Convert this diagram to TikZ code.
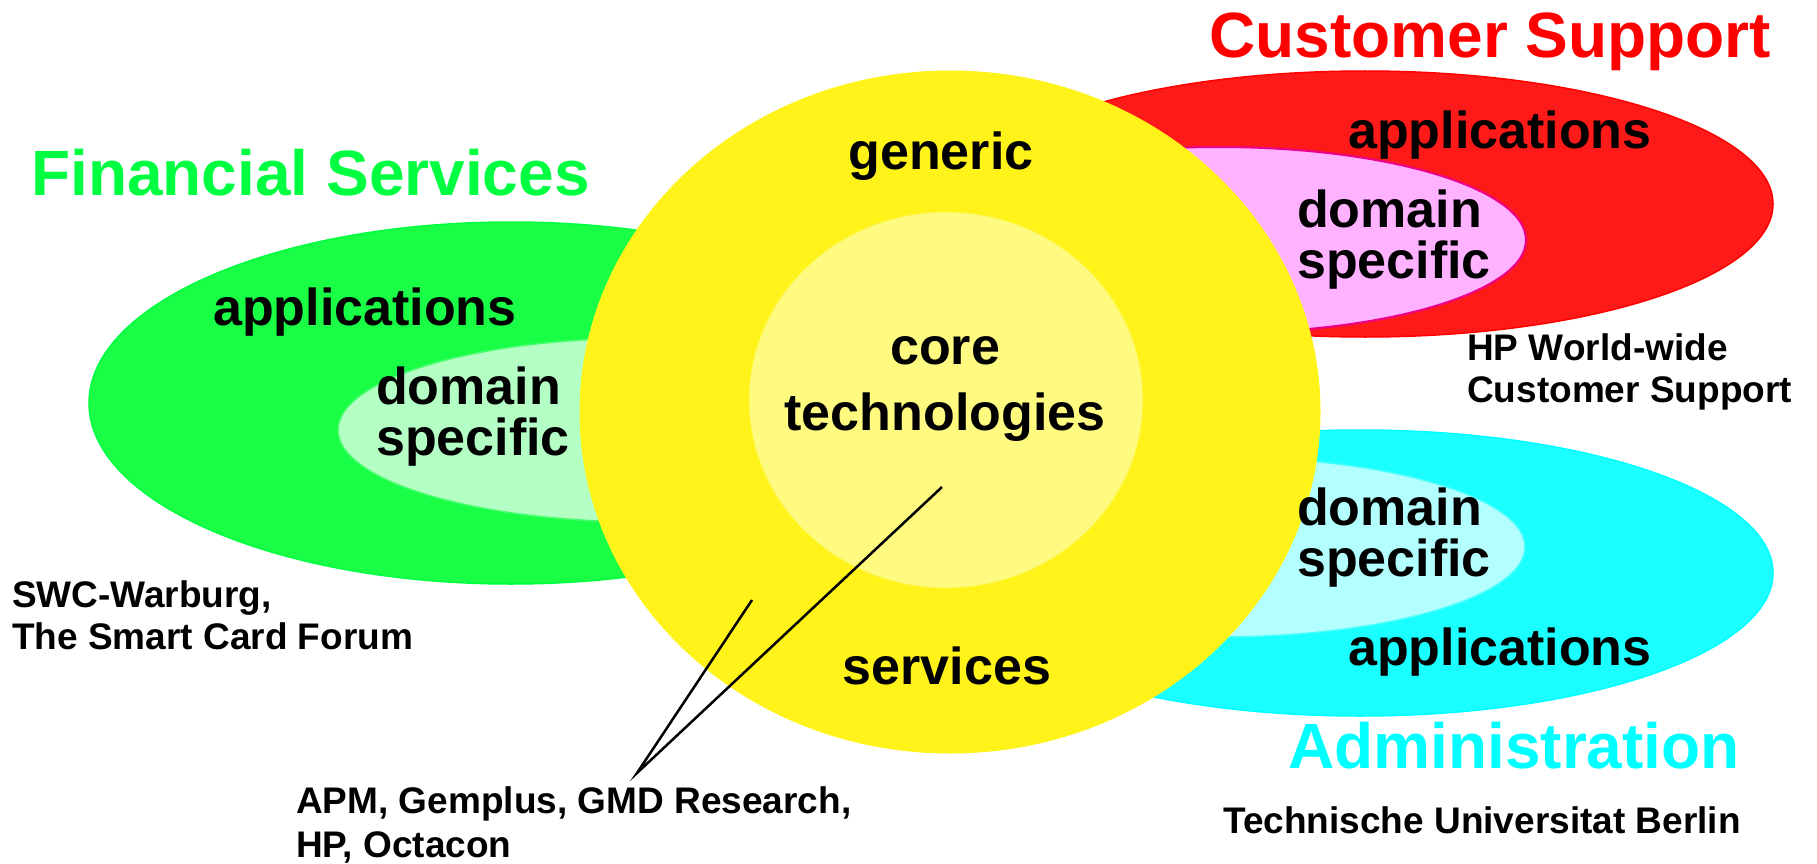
\documentclass[tikz,border=0pt]{standalone}
\usepackage{fontspec}
\setmainfont{Liberation Sans}
\usetikzlibrary{positioning}
\definecolor{GA}{RGB}{25,255,70}   % green outer
\definecolor{GB}{RGB}{179,255,196} % green inner
\definecolor{RA}{RGB}{255,26,26}   % red outer
\definecolor{RB}{RGB}{255,178,255} % pink inner
\definecolor{CA}{RGB}{26,255,255}  % cyan outer
\definecolor{CB}{RGB}{179,255,255} % cyan inner
\definecolor{YA}{RGB}{255,243,26}  % yellow outer
\definecolor{YB}{RGB}{255,250,128} % yellow inner
\definecolor{TG}{RGB}{0,255,64}
\definecolor{TR}{RGB}{255,0,0}
\definecolor{TC}{RGB}{0,255,255}

\begin{document}
\begin{tikzpicture}[x=1pt, y=-1pt,
  TTL/.style = {font=\bfseries\fontsize{64}{64}\selectfont,
                inner sep=0pt, anchor=base west},
  LBL/.style = {font=\bfseries\fontsize{52}{51}\selectfont,
                inner sep=0pt, anchor=base west, align=left},
  SML/.style = {font=\bfseries\fontsize{37}{42}\selectfont,
                inner sep=0pt, anchor=base west, align=left},
  LNE/.style = {line width=2.5pt, black}
                    ]
\fill[white] (0,0) rectangle (1817,864);
\useasboundingbox (0,0) rectangle (1817,864);
% side fields
\filldraw[fill=GA, draw=TG, line width=1.5pt] (511,403) ellipse [x radius=422pt, y radius=181pt];
\filldraw[fill=GB, draw=GA!70!GB, line width=1.5pt] (645,430) ellipse [x radius=307pt, y radius=92pt];
\filldraw[fill=RA, draw=TR, line width=1.5pt] (1365,204) ellipse [x radius=408pt, y radius=133pt];
\filldraw[fill=RB, draw=magenta, line width=2pt] (1219,240) ellipse [x radius=307pt, y radius=93pt];
\filldraw[fill=CA, draw=TC, line width=1.5pt] (1360,573) ellipse [x radius=413pt, y radius=143pt];
\filldraw[fill=CB, draw=CA!70!CB, line width=1.5pt] (1219,547) ellipse [x radius=306pt, y radius=90pt];
% centre
\filldraw[fill=YA, draw=YA, line width=1pt] (950,412) ellipse [x radius=370pt, y radius=341pt];
\filldraw[fill=YB, draw=YA!60!YB, line width=1pt] (946,400) ellipse [x radius=197pt, y radius=188pt];

% titles
\node[TTL, text=TG] (fin) at (31,195) {Financial Services};
\node[TTL, text=TR] (cus) at (1209,58) {Customer Support};
\node[TTL, text=TC] (adm) at (1288,768) {Administration};

% field labels (base = last line)
\node[LBL] (finapp) at (213,325) {applications};
\node[LBL] (findom) at (376,455) {domain\\specific};
\node[LBL] (cusapp) at (1348,148) {applications};
\node[LBL] (cusdom) at (1297,278) {domain\\specific};
\node[LBL] (admdom) at (1297,576) {domain\\specific};
\node[LBL] (admapp) at (1348,665) {applications};
\node[LBL, anchor=base] (gen) at (941,169) {generic};
\node[LBL, anchor=base, align=center,
      font=\bfseries\fontsize{52}{66}\selectfont] (core) at (945,430) {core\\technologies};
\node[LBL, anchor=base] (serv) at (947,684) {services};

% partners
\node[SML] (hp)  at (1467,402) {HP World-wide\\Customer Support};
\node[SML] (tub) at (1223,833) {Technische Universitat Berlin};
\node[SML] (swc) at (12,649) {SWC-Warburg,\\The Smart Card Forum};
\node[SML, font=\bfseries\fontsize{37}{44}\selectfont] (apm) at (296,857) {APM, Gemplus, GMD Research,\\HP, Octacon};

% pointer lines
\coordinate (coretip) at (942,487);
\coordinate (servtip) at (752,600);
\coordinate (apex)    at (637,773);
\draw[LNE] (coretip) -- (apex) -- (servtip);
\end{tikzpicture}
\end{document}
